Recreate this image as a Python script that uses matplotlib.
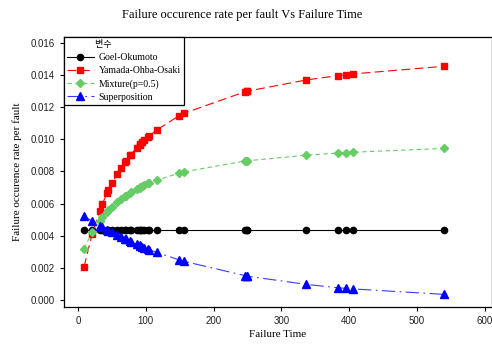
import matplotlib
matplotlib.use("Agg")
import matplotlib.pyplot as plt

# NTDS failure times and per-fault failure rates
failure_time = [9, 21, 32, 36, 43, 45, 50, 58, 63, 70, 71, 77, 78, 87, 91, 92, 95,
                98, 104, 105, 116, 149, 156, 247, 249, 250, 337, 384, 396, 405, 540]

goel_okumoto = [0.00433] * len(failure_time)

yamada = [0.00206, 0.00411, 0.00553, 0.00597, 0.00665, 0.00683, 0.00725, 0.00785,
          0.00818, 0.00861, 0.00867, 0.00899, 0.00904, 0.00948, 0.00965, 0.00970,
          0.00982, 0.00994, 0.01017, 0.01020, 0.01057, 0.01146, 0.01161, 0.01296,
          0.01298, 0.01299, 0.01369, 0.01396, 0.01402, 0.01406, 0.01454]

mixture = [0.00320, 0.00422, 0.00493, 0.00515, 0.00549, 0.00558, 0.00579, 0.00609,
           0.00626, 0.00647, 0.00650, 0.00666, 0.00669, 0.00690, 0.00699, 0.00701,
           0.00708, 0.00714, 0.00725, 0.00727, 0.00745, 0.00789, 0.00797, 0.00865,
           0.00866, 0.00866, 0.00901, 0.00914, 0.00917, 0.00919, 0.00943]

superposition = [0.00522, 0.00490, 0.00463, 0.00453, 0.00437, 0.00432, 0.00421, 0.00404,
                 0.00393, 0.00379, 0.00377, 0.00365, 0.00363, 0.00346, 0.00339, 0.00337,
                 0.00332, 0.00326, 0.00316, 0.00314, 0.00296, 0.00250, 0.00241, 0.00151,
                 0.00149, 0.00148, 0.00097, 0.00076, 0.00072, 0.00069, 0.00035]

serif = ["Liberation Serif", "DejaVu Serif"]
sans = ["Liberation Sans", "DejaVu Sans"]

fig = plt.figure(figsize=(4.92, 3.47), dpi=100)
ax = fig.add_axes([0.130, 0.1153, 0.870, 0.7781])

ax.plot(failure_time, goel_okumoto, color="black", lw=0.8, ls="-",
        marker="o", ms=4.5, label="Goel-Okumoto")
ax.plot(failure_time, yamada, color="red", lw=0.8, ls=(0, (8, 4)),
        marker="s", ms=5, label="Yamada-Ohba-Osaki")
ax.plot(failure_time, mixture, color="#66cc66", lw=0.8, ls=(0, (4, 3)),
        marker="D", ms=4.5, label="Mixture(p=0.5)")
ax.plot(failure_time, superposition, color="#3a3aff", lw=0.8, ls=(0, (12, 4, 1.5, 4)),
        mfc="blue", mec="blue", marker="^", ms=5.5, label="Superposition")

ax.set_xlim(-20.6, 610.6)
ax.set_ylim(-0.000435, 0.01636)
ax.set_xticks([0, 100, 200, 300, 400, 500, 600])
ax.set_yticks([0.000, 0.002, 0.004, 0.006, 0.008, 0.010, 0.012, 0.014, 0.016])
ax.yaxis.set_major_formatter(matplotlib.ticker.FormatStrFormatter("%.3f"))
ax.tick_params(direction="out", length=3, width=0.8, labelsize=7, top=False, right=False)
for lab in ax.get_xticklabels() + ax.get_yticklabels():
    lab.set_family(sans)
    lab.set_color("#222222")
for sp in ax.spines.values():
    sp.set_linewidth(0.9)

ax.set_xlabel("Failure Time", family=serif, fontsize=8, labelpad=3)
ax.set_ylabel("Failure occurence rate per fault", family=serif, fontsize=8, labelpad=6)
fig.text(0.492, 1 - 15 / 347, "Failure occurence rate per fault Vs Failure Time",
         family=serif, fontsize=9, ha="center", va="center")

leg = ax.legend(loc="upper left", bbox_to_anchor=(0, 1), prop={"family": serif, "size": 7},
                title="              변수",
                title_fontproperties={"family": ["Noto Sans CJK KR", "DejaVu Sans"], "size": 6.5},
                frameon=True, fancybox=False, edgecolor="black", framealpha=1,
                handlelength=2.7, labelspacing=0.4, borderpad=0.35, borderaxespad=0,
                handletextpad=0.5)
leg.get_frame().set_linewidth(0.9)
leg._legend_box.align = "left"

fig.savefig("out.png", dpi=100)
